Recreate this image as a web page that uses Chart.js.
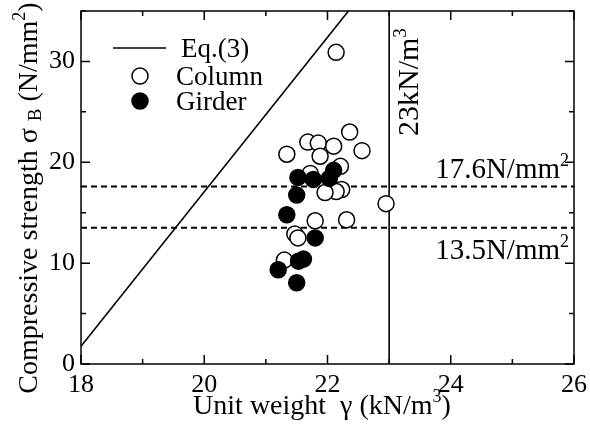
<!DOCTYPE html>
<html>
<head>
<meta charset="utf-8">
<script src="https://cdn.jsdelivr.net/npm/chart.js@4/dist/chart.umd.min.js"></script>
<style>
  html, body { margin: 0; padding: 0; background: #fff; }
  #wrap { width: 590px; height: 426px; }
</style>
</head>
<body>
<div id="wrap"><canvas id="c" width="590" height="426"></canvas></div>
<script>
const SERIF = '"Liberation Serif", "Times New Roman", serif';

// Tick labels
const xTickLabels = [18, 20, 22, 24, 26];
const yTickLabels = [0, 10, 20, 30];

// Column specimens: unit weight (kN/m3) and compressive strength (N/mm2)
const columnX = [22.14, 22.36, 21.68, 21.85, 22.10, 21.34, 21.88, 22.56, 22.21, 21.72,
                 22.23, 22.14, 21.96, 22.31, 21.80, 22.95, 21.47, 21.52, 21.30];
const columnY = [30.9, 23.0, 22.0, 21.9, 21.6, 20.8, 20.6, 21.15, 19.6, 18.9,
                 17.3, 17.1, 17.0, 14.3, 14.2, 15.9, 12.9, 12.5, 10.3];

// Girder specimens
const girderX = [21.52, 21.77, 22.10, 22.03, 21.50, 21.34, 21.80, 21.53, 21.61, 21.20, 21.50];
const girderY = [18.5, 18.3, 19.2, 18.4, 16.75, 14.8, 12.5, 10.2, 10.4, 9.35, 8.05];

// Eq.(3) relation, end points inside the axes
const eqX = [18, 22.34];
const eqY = [1.76, 35];

// Reference levels
const strengthLevels = [17.6, 13.5];
const weightLimit = 23;

const pts = (xs, ys) => xs.map((x, i) => ({ x, y: ys[i] }));

const datasets = [
  {
    label: 'Girder', data: pts(girderX, girderY), order: 0,
    showLine: false, pointRadius: 8, pointHoverRadius: 8,
    pointBackgroundColor: '#000', pointBorderColor: '#000', pointBorderWidth: 1.5
  },
  {
    label: 'Column', data: pts(columnX, columnY), order: 1,
    showLine: false, pointRadius: 8, pointHoverRadius: 8,
    pointBackgroundColor: '#fff', pointBorderColor: '#000', pointBorderWidth: 1.5
  },
  {
    label: 'Eq.(3)', data: pts(eqX, eqY), order: 2,
    showLine: true, borderColor: '#000', borderWidth: 1.6, pointRadius: 0
  },
  ...strengthLevels.map(v => ({
    label: v + 'N/mm2', data: [{ x: 18, y: v }, { x: 26, y: v }], order: 3,
    showLine: true, borderColor: '#000', borderWidth: 2, borderDash: [6, 4], pointRadius: 0
  })),
  {
    label: weightLimit + 'kN/m3', data: [{ x: weightLimit, y: 0 }, { x: weightLimit, y: 35 }], order: 3,
    showLine: true, borderColor: '#000', borderWidth: 1.6, pointRadius: 0
  }
];

// Draws a run of text pieces (normal / superscript / subscript)
function richWidth(ctx, parts) {
  let w = 0;
  for (const p of parts) { ctx.font = p.size + 'px ' + SERIF; w += ctx.measureText(p.t).width; }
  return w;
}
function drawRich(ctx, parts, x, y, align) {
  const w = richWidth(ctx, parts);
  let cx = align === 'center' ? x - w / 2 : align === 'right' ? x - w : x;
  ctx.textBaseline = 'alphabetic';
  ctx.textAlign = 'left';
  for (const p of parts) {
    ctx.font = p.size + 'px ' + SERIF;
    ctx.fillText(p.t, cx, y + (p.dy || 0));
    cx += ctx.measureText(p.t).width;
  }
}

const framePlugin = {
  id: 'frame',
  afterDraw(chart) {
    const { ctx, chartArea: a, scales: { x, y } } = chart;
    ctx.save();
    ctx.strokeStyle = '#000';
    ctx.fillStyle = '#000';
    ctx.lineWidth = 1.5;
    ctx.strokeRect(a.left, a.top, a.right - a.left, a.bottom - a.top);

    // inward tick marks on all four sides
    ctx.beginPath();
    for (let v = x.min; v <= x.max; v += 1) {
      const px = x.getPixelForValue(v);
      const len = v % 2 === 0 ? 9 : 5;
      ctx.moveTo(px, a.bottom); ctx.lineTo(px, a.bottom - len);
      ctx.moveTo(px, a.top); ctx.lineTo(px, a.top + len);
    }
    for (let v = y.min; v <= y.max; v += 5) {
      const py = y.getPixelForValue(v);
      const len = v % 10 === 0 ? 9 : 5;
      ctx.moveTo(a.left, py); ctx.lineTo(a.left + len, py);
      ctx.moveTo(a.right, py); ctx.lineTo(a.right - len, py);
    }
    ctx.stroke();

    // legend
    const lx = a.left + 32, ly = a.top + 37, gap = 25;
    ctx.lineWidth = 1.6;
    ctx.beginPath(); ctx.moveTo(lx, ly); ctx.lineTo(lx + 53, ly); ctx.stroke();
    ctx.lineWidth = 1.5;
    ctx.beginPath(); ctx.arc(lx + 27, ly + gap + 3, 8, 0, Math.PI * 2);
    ctx.fillStyle = '#fff'; ctx.fill(); ctx.stroke();
    ctx.beginPath(); ctx.arc(lx + 27, ly + 2 * gap + 3, 8, 0, Math.PI * 2);
    ctx.fillStyle = '#000'; ctx.fill(); ctx.stroke();
    ctx.fillStyle = '#000';
    drawRich(ctx, [{ t: datasets[2].label, size: 27 }], lx + 68, ly + 9, 'left');
    drawRich(ctx, [{ t: datasets[1].label, size: 27 }], lx + 63, ly + gap + 12, 'left');
    drawRich(ctx, [{ t: datasets[0].label, size: 27 }], lx + 63, ly + 2 * gap + 12, 'left');

    // level labels
    const sup = (t, s) => ({ t, size: s || 18, dy: -12 });
    const y1 = y.getPixelForValue(strengthLevels[0]);
    const y2 = y.getPixelForValue(strengthLevels[1]);
    drawRich(ctx, [{ t: strengthLevels[0] + 'N/mm', size: 29 }, sup('2')], a.right - 5, y1 - 8, 'right');
    drawRich(ctx, [{ t: strengthLevels[1] + 'N/mm', size: 29 }, sup('2')], a.right - 5, y2 + 31, 'right');

    // vertical label beside the weight limit
    const vx = x.getPixelForValue(weightLimit);
    ctx.save();
    ctx.translate(vx + 29, 136);
    ctx.rotate(-Math.PI / 2);
    drawRich(ctx, [{ t: weightLimit + 'kN/m', size: 30 }, sup('3', 19)], 0, 0, 'left');
    ctx.restore();

    // axis titles
    drawRich(ctx, [{ t: 'Unit weight  \u03b3 (kN/m', size: 28 }, sup('3'), { t: ')', size: 28 }],
             322, 414, 'center');
    ctx.save();
    ctx.translate(37, 198);
    ctx.rotate(-Math.PI / 2);
    drawRich(ctx, [
      { t: 'Compressive strength \u03c3 ', size: 28 },
      { t: 'B', size: 19, dy: 4 },
      { t: ' (N/mm', size: 28 }, sup('2'), { t: ')', size: 28 }
    ], 0, 0, 'center');
    ctx.restore();
    ctx.restore();
  }
};

// keep the plot frame fixed regardless of label overhang
function pinScale(s, size) {
  if (s.isHorizontal()) s.height = size; else s.width = size;
  s.paddingTop = 0; s.paddingBottom = 0; s.paddingLeft = 0; s.paddingRight = 0;
}

new Chart(document.getElementById('c'), {
  type: 'scatter',
  data: { datasets },
  options: {
    responsive: false,
    animation: false,
    devicePixelRatio: 1,
    layout: { padding: { top: 11, right: 16, left: 0, bottom: 0 } },
    plugins: { legend: { display: false }, tooltip: { enabled: false } },
    scales: {
      x: {
        type: 'linear', min: 18, max: 26,
        grid: { display: false, drawTicks: false },
        border: { display: false },
        ticks: {
          stepSize: 1, autoSkip: false, maxRotation: 0, padding: 6,
          color: '#000', font: { family: SERIF, size: 26 },
          callback: v => xTickLabels.includes(v) ? String(v) : ''
        },
        afterFit: s => pinScale(s, 62)
      },
      y: {
        type: 'linear', min: 0, max: 35,
        grid: { display: false, drawTicks: false },
        border: { display: false },
        ticks: {
          stepSize: 5, autoSkip: false, padding: 6,
          color: '#000', font: { family: SERIF, size: 26 },
          callback: v => yTickLabels.includes(v) ? String(v) : ''
        },
        afterFit: s => pinScale(s, 81)
      }
    }
  },
  plugins: [framePlugin]
});
</script>
</body>
</html>
